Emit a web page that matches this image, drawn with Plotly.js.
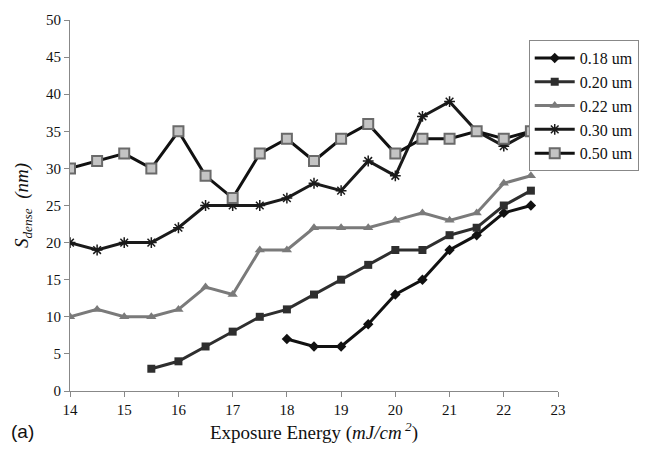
<!DOCTYPE html>
<html>
<head>
<meta charset="utf-8">
<script src="https://cdn.plot.ly/plotly-3.0.1.min.js"></script>
<style>html,body{margin:0;padding:0;background:#fff;}#chart{width:652px;height:458px;}</style>
</head>
<body>
<div id="chart"></div>
<script>
// Exposure energy (mJ/cm^2) sampled every 0.5
const energyFull = [14, 14.5, 15, 15.5, 16, 16.5, 17, 17.5, 18, 18.5, 19, 19.5, 20, 20.5, 21, 21.5, 22, 22.5];
const energy018 = [18, 18.5, 19, 19.5, 20, 20.5, 21, 21.5, 22, 22.5];
const energy020 = [15.5, 16, 16.5, 17, 17.5, 18, 18.5, 19, 19.5, 20, 20.5, 21, 21.5, 22, 22.5];

// S_dense (nm) per feature size
const s018 = [7, 6, 6, 9, 13, 15, 19, 21, 24, 25];
const s020 = [3, 4, 6, 8, 10, 11, 13, 15, 17, 19, 19, 21, 22, 25, 27];
const s022 = [10, 11, 10, 10, 11, 14, 13, 19, 19, 22, 22, 22, 23, 24, 23, 24, 28, 29];
const s030 = [20, 19, 20, 20, 22, 25, 25, 25, 26, 28, 27, 31, 29, 37, 39, 35, 33, 35];
const s050 = [30, 31, 32, 30, 35, 29, 26, 32, 34, 31, 34, 36, 32, 34, 34, 35, 34, 35];

const seriesNames = ['0.18 um', '0.20 um', '0.22 um', '0.30 um', '0.50 um'];
const xTicks = [14, 15, 16, 17, 18, 19, 20, 21, 22, 23];
const yTicks = [0, 5, 10, 15, 20, 25, 30, 35, 40, 45, 50];

const serif = 'Liberation Serif';

const traces = [
  {x: energy018, y: s018, name: seriesNames[0],
   line: {color: '#111', width: 3},
   marker: {symbol: 'diamond', size: 8, color: '#111'}},
  {x: energy020, y: s020, name: seriesNames[1],
   line: {color: '#2e2e2e', width: 3},
   marker: {symbol: 'square', size: 8, color: '#2e2e2e'}},
  {x: energyFull, y: s022, name: seriesNames[2],
   line: {color: '#7a7a7a', width: 3},
   marker: {symbol: 'triangle-up', size: 9, color: '#7a7a7a'}},
  {x: energyFull, y: s030, name: seriesNames[3],
   line: {color: '#1a1a1a', width: 3},
   marker: {symbol: 'asterisk', size: 9, color: '#1a1a1a', line: {color: '#1a1a1a', width: 1.5}}},
  {x: energyFull, y: s050, name: seriesNames[4],
   line: {color: '#111', width: 3},
   marker: {symbol: 'square', size: 10, color: '#c4c4c4', line: {color: '#6a6a6a', width: 2}}}
].map(t => Object.assign({type: 'scatter', mode: 'lines+markers'}, t));

const layout = {
  width: 652, height: 458,
  margin: {l: 70, r: 94, t: 20, b: 67},
  paper_bgcolor: '#fff', plot_bgcolor: '#fff',
  font: {family: serif, size: 15, color: '#111'},
  showlegend: true,
  legend: {
    x: 0.94, y: 0.946, xanchor: 'left', yanchor: 'top',
    bgcolor: '#fff', bordercolor: '#888', borderwidth: 1,
    font: {family: serif, size: 16, color: '#111'},
    tracegroupgap: 0, itemwidth: 40
  },
  xaxis: {
    range: [14, 23], tickvals: xTicks, ticktext: xTicks.map(String),
    showgrid: false, zeroline: false,
    showline: true, linecolor: '#888', linewidth: 1,
    ticks: 'outside', ticklen: 5, tickcolor: '#888',
    tickfont: {family: serif, size: 15, color: '#111'},
    title: {text: 'Exposure Energy (<i>mJ/cm</i><sup> <i>2</i></sup>)', font: {family: serif, size: 19, color: '#111'}, standoff: 8}
  },
  yaxis: {
    range: [0, 50], tickvals: yTicks, ticktext: yTicks.map(String),
    showgrid: false, zeroline: false,
    showline: true, linecolor: '#888', linewidth: 1,
    ticks: 'outside', ticklen: 5, tickcolor: '#888',
    tickfont: {family: serif, size: 15, color: '#111'},
    title: {text: '<i>S</i><sub><i>dense</i></sub>  <i>(nm)</i>', font: {family: serif, size: 19, color: '#111'}, standoff: 12}
  },
  annotations: [
    {text: '(a)', xref: 'paper', yref: 'paper', x: -0.125, y: -0.075, xanchor: 'left', yanchor: 'top',
     showarrow: false, font: {family: 'Liberation Sans', size: 19, color: '#111'}}
  ]
};

Plotly.newPlot('chart', traces, layout, {displayModeBar: false, staticPlot: true});
</script>
</body>
</html>
